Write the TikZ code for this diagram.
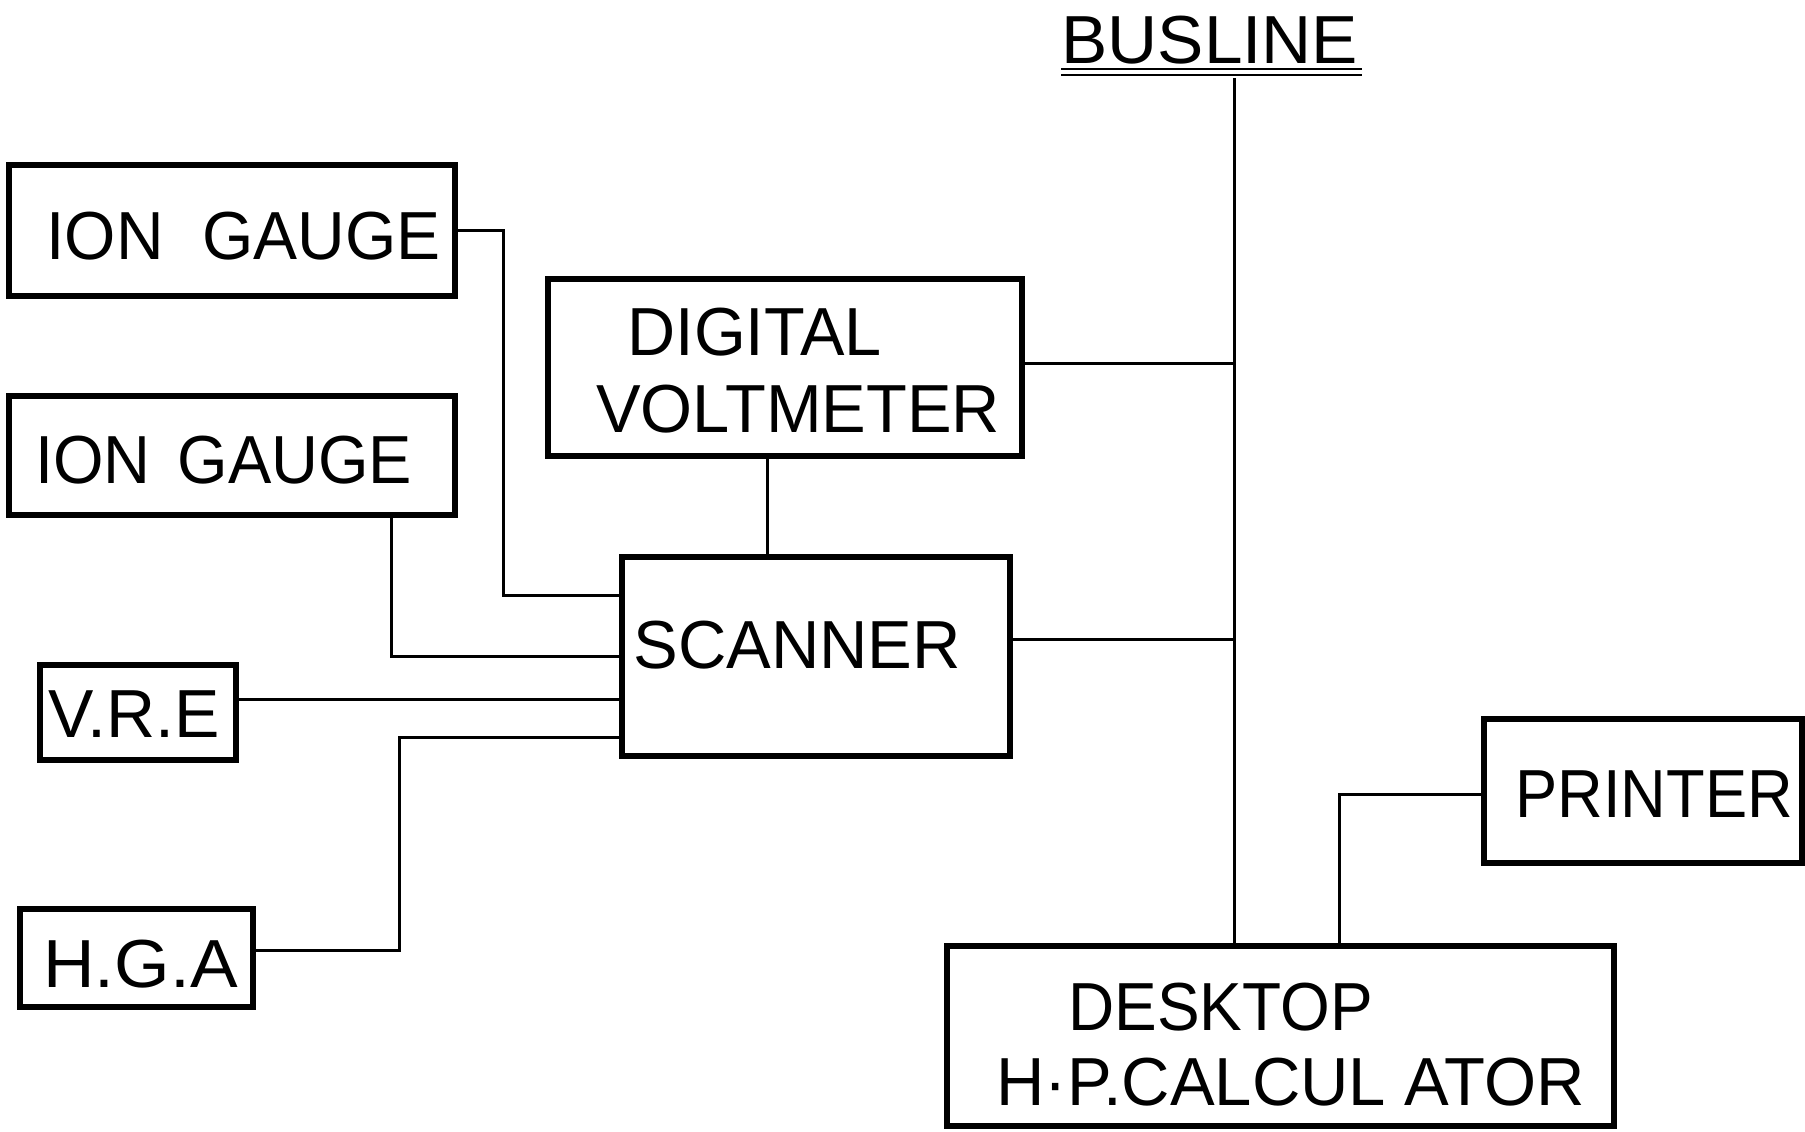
\documentclass[tikz,border=0pt]{standalone}
\usepackage{fontspec}
\setmainfont{Liberation Sans}
\usetikzlibrary{calc}
\begin{document}
\begin{tikzpicture}[x=0.5pt,y=-0.5pt,
  blk/.style={draw, rectangle, line width=2.7pt, inner sep=0pt},
  lbl/.style={anchor=base west, inner sep=0pt, font=\fontsize{34}{40}\selectfont},
  conn/.style={line width=1.5pt},
  uline/.style={line width=1.2pt}]
\useasboundingbox (0,0) rectangle (1805,1131);
\fill[white] (0,0) rectangle (1805,1131);
% boxes
\node[blk, minimum width=223pt, minimum height=65.5pt] (ig1) at (232,230.5) {};
\node[blk, minimum width=223pt, minimum height=59.5pt] (ig2) at (232,455.5) {};
\node[blk, minimum width=237pt, minimum height=88.5pt] (dvm) at (785,367.5) {};
\node[blk, minimum width=194pt, minimum height=99.5pt] (scan) at (816,656.5) {};
\node[blk, minimum width=98pt, minimum height=47.5pt] (vre) at (138,712.5) {};
\node[blk, minimum width=116.5pt, minimum height=49pt] (hga) at (136.5,958) {};
\node[blk, minimum width=159pt, minimum height=72pt] (prn) at (1643,791) {};
\node[blk, minimum width=333.5pt, minimum height=90pt] (desk) at (1280.5,1036) {};
% labels
\node[lbl] (ig1t) at (46,259) {\scalebox{0.97}[1]{ION\hspace{20pt}GAUGE}};
\node[lbl] (ig2t) at (35,483) {\scalebox{0.955}[1]{ION\hspace{14pt}GAUGE}};
\node[lbl] (dvmA) at (627,355) {\scalebox{0.98}[1]{DIGITAL}};
\node[lbl] (dvmB) at (596,432) {\scalebox{0.983}[1]{VOLTMETER}};
\node[lbl] (scant) at (633,668) {\scalebox{0.985}[1]{SCANNER}};
\node[lbl] (vret) at (48,737) {\scalebox{1.0}[1]{V.R.E}};
\node[lbl] (hgat) at (43,987) {\scalebox{1.05}[1]{H.G.A}};
\node[lbl] (prnt) at (1515,817) {\scalebox{0.93}[1]{PRINTER}};
\node[lbl] (deskA) at (1068,1030) {\scalebox{0.94}[1]{DESKTOP}};
\node[lbl] (deskB) at (996,1105) {\scalebox{0.985}[1]{H·P.CALCUL ATOR}};
\node[lbl] (busl) at (1061,63) {\scalebox{1.02}[1]{BUSLINE}};
\draw[uline] ($(busl.base west)+(0,6)$) -- ($(busl.base east)+(3,6)$);
\draw[uline] ($(busl.base west)+(0,12)$) -- ($(busl.base east)+(3,12)$);
% connectors
\coordinate (busTop) at (1234,78);
\draw[conn] (busTop) -- (busTop |- desk.north);
\draw[conn] (ig1.east) -- ++(46,0) |- (scan.west |- 0,595);
\draw[conn] (ig2.south -| 391,0) |- (scan.west);
\draw[conn] (vre.east |- 0,699) -- (scan.west |- 0,699);
\draw[conn] (hga.east |- 0,950) -- ++(144,0) |- (scan.west |- 0,737);
\draw[conn] (dvm.south -| 767,0) -- (scan.north -| 767,0);
\draw[conn] (dvm.east |- 0,363) -- (busTop |- 0,363);
\draw[conn] (scan.east |- 0,639) -- (busTop |- 0,639);
\draw[conn] (prn.west |- 0,794) -| (desk.north -| 1339,0);
\end{tikzpicture}
\end{document}
